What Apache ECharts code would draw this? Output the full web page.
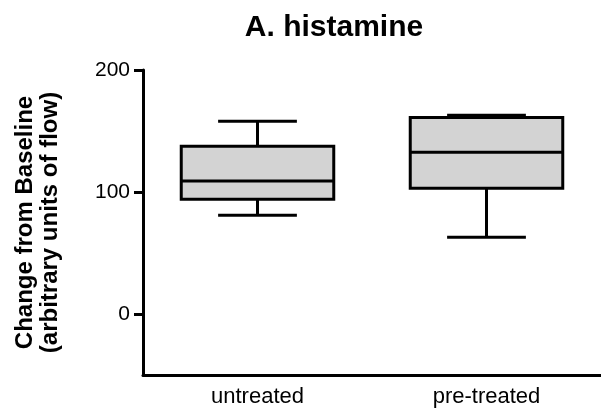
<!DOCTYPE html>
<html>
<head>
<meta charset="utf-8">
<script src="https://cdn.jsdelivr.net/npm/echarts@6/dist/echarts.min.js"></script>
<style>
html,body{margin:0;padding:0;background:#fff;}
#chart{width:601px;height:417px;}
</style>
</head>
<body>
<div id="chart"></div>
<script>
const categories = ['untreated', 'pre-treated'];
const whiskerLow = [81, 63];
const q1 = [94, 103];
const median = [109, 132.5];
const q3 = [137.5, 161];
const whiskerHigh = [158, 163];
const yTicks = [0, 100, 200];

const boxData = categories.map((c, i) => [i, whiskerLow[i], q1[i], median[i], q3[i], whiskerHigh[i]]);

const chart = echarts.init(document.getElementById('chart'));
const FONT = 'Liberation Sans, Arial, sans-serif';
chart.setOption({
  animation: false,
  backgroundColor: '#fff',
  title: {
    text: 'A. histamine',
    left: 329,
    textAlign: 'center',
    top: 8,
    textStyle: { fontFamily: FONT, fontWeight: 'bold', fontSize: 30, color: '#000' }
  },
  grid: { left: 143, top: 70, bottom: 42, right: -3, containLabel: false },
  xAxis: {
    type: 'category',
    data: categories,
    boundaryGap: true,
    axisLine: { onZero: false, lineStyle: { color: '#000', width: 3 } },
    axisTick: { alignWithLabel: true, length: 9, lineStyle: { color: '#000', width: 3 } },
    axisLabel: { fontFamily: FONT, fontSize: 22, color: '#000', margin: 11 },
    splitLine: { show: false }
  },
  yAxis: {
    type: 'value',
    min: -50,
    max: 200,
    name: 'Change from Baseline\n(arbitrary units of flow)',
    nameLocation: 'middle',
    nameRotate: 90,
    nameGap: 80,
    nameTextStyle: { fontFamily: FONT, fontWeight: 'bold', fontSize: 24, color: '#000', lineHeight: 25 },
    axisLine: { show: true, lineStyle: { color: '#000', width: 3 } },
    axisTick: { show: true, length: 9, customValues: yTicks, lineStyle: { color: '#000', width: 3 } },
    axisLabel: { fontFamily: FONT, fontSize: 21, color: '#000', margin: 13, customValues: yTicks },
    splitLine: { show: false }
  },
  series: [{
    type: 'custom',
    data: boxData,
    encode: { x: 0, y: [1, 2, 3, 4, 5] },
    renderItem: function (params, api) {
      const idx = api.value(0);
      const band = api.size([1, 0])[0];
      const hw = band * 0.333;
      const cw = band * 0.172;
      const pLow = api.coord([idx, api.value(1)]);
      const pQ1 = api.coord([idx, api.value(2)]);
      const pMed = api.coord([idx, api.value(3)]);
      const pQ3 = api.coord([idx, api.value(4)]);
      const pHigh = api.coord([idx, api.value(5)]);
      const x = pMed[0];
      const ls = { stroke: '#000', lineWidth: 3 };
      return {
        type: 'group',
        children: [
          { type: 'line', shape: { x1: x, y1: pQ3[1], x2: x, y2: pHigh[1] }, style: ls },
          { type: 'line', shape: { x1: x, y1: pQ1[1], x2: x, y2: pLow[1] }, style: ls },
          { type: 'line', shape: { x1: x - cw, y1: pHigh[1], x2: x + cw, y2: pHigh[1] }, style: ls },
          { type: 'line', shape: { x1: x - cw, y1: pLow[1], x2: x + cw, y2: pLow[1] }, style: ls },
          { type: 'rect', shape: { x: x - hw, y: pQ3[1], width: hw * 2, height: pQ1[1] - pQ3[1] }, style: { fill: '#d3d3d3', stroke: '#000', lineWidth: 3 } },
          { type: 'line', shape: { x1: x - hw, y1: pMed[1], x2: x + hw, y2: pMed[1] }, style: ls }
        ]
      };
    }
  }]
});
</script>
</body>
</html>
